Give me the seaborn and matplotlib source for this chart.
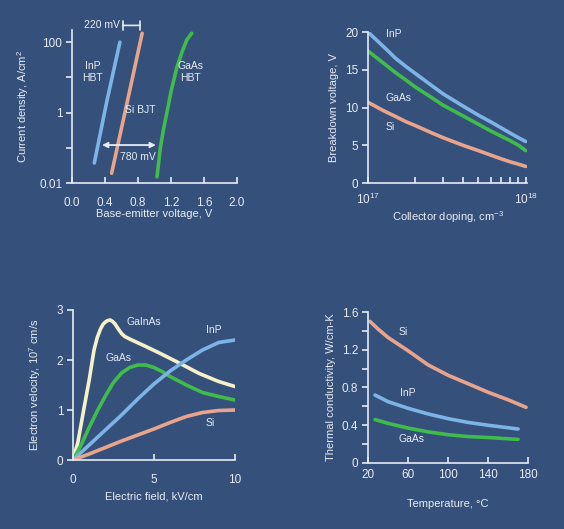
import numpy as np
import pandas as pd
import matplotlib
matplotlib.use("Agg")
import matplotlib.pyplot as plt
import matplotlib.ticker as mticker
import seaborn as sns

# --- colours ---
BG = "#35507b"
FG = "#e6ecf3"
C_INP = "#7db4e6"
C_SI = "#e9a58c"
C_GAAS = "#3fbc4c"
C_GAINAS = "#f5f1c9"

# --- panel 1: current density vs base-emitter voltage ---
inp_v = [0.27, 0.42, 0.58]
inp_j = [0.037, 2.0, 100]
si_v = [0.48, 0.66, 0.85]
si_j = [0.019, 1.6, 180]
gaas_v = [1.03, 1.07, 1.11, 1.15, 1.20, 1.27, 1.33, 1.39, 1.45]
gaas_j = [0.015, 0.1, 0.35, 1.0, 4.0, 19, 50, 115, 180]

# --- panel 2: breakdown voltage vs collector doping ---
doping = [1e17, 1.25e17, 1.5e17, 1.75e17, 2e17, 2.5e17, 3e17, 4e17, 5e17, 6e17, 7e17, 8e17, 9e17, 1e18]
bv_inp = [20, 18.1, 16.5, 15.4, 14.5, 13.0, 11.8, 10.2, 9.0, 8.1, 7.3, 6.6, 6.0, 5.5]
bv_gaas = [17.5, 15.9, 14.6, 13.6, 12.7, 11.4, 10.3, 8.9, 7.8, 6.9, 6.2, 5.6, 5.0, 4.3]
bv_si = [10.7, 9.6, 8.8, 8.1, 7.6, 6.7, 6.0, 5.0, 4.3, 3.7, 3.2, 2.8, 2.5, 2.2]

# --- panel 3: electron velocity vs electric field ---
e_gainas = [0, 0.3, 0.66, 1.0, 1.3, 1.5, 1.7, 1.85, 2.0, 2.15, 2.3, 2.45, 2.6, 2.8, 3.0, 3.2, 3.5, 4.5, 5.4, 6.5, 7.8, 9, 10]
v_gainas = [0, 0.35, 1.0, 1.6, 2.2, 2.45, 2.62, 2.71, 2.76, 2.79, 2.8, 2.77, 2.72, 2.62, 2.53, 2.47, 2.42, 2.27, 2.13, 1.95, 1.73, 1.57, 1.47]
e_gaas = [0, 0.5, 1, 1.5, 2, 2.5, 3, 3.5, 4, 4.5, 5, 5.5, 6, 7, 8, 9, 10]
v_gaas = [0, 0.3, 0.65, 0.98, 1.28, 1.55, 1.74, 1.85, 1.9, 1.9, 1.85, 1.77, 1.67, 1.5, 1.35, 1.27, 1.2]
e_inp = [0, 1, 2, 3, 4, 5, 6, 7, 8, 9, 10]
v_inp = [0, 0.3, 0.6, 0.9, 1.22, 1.52, 1.78, 2.0, 2.2, 2.35, 2.4]
e_si = [0, 1, 2, 3, 4, 5, 6, 7, 8, 9, 10]
v_si = [0, 0.12, 0.25, 0.38, 0.5, 0.62, 0.75, 0.87, 0.95, 0.99, 1.0]

# --- panel 4: thermal conductivity vs temperature ---
t_si = [22, 30, 40, 50, 60, 80, 100, 120, 140, 160, 178]
k_si = [1.5, 1.42, 1.33, 1.26, 1.19, 1.04, 0.93, 0.84, 0.75, 0.67, 0.59]
t_inp = [27, 40, 60, 80, 100, 120, 140, 170]
k_inp = [0.72, 0.65, 0.58, 0.52, 0.47, 0.43, 0.40, 0.36]
t_gaas = [27, 40, 60, 80, 100, 120, 140, 170]
k_gaas = [0.46, 0.42, 0.37, 0.33, 0.30, 0.28, 0.27, 0.25]


def frame(pairs, xname, yname):
    parts = []
    for name, xs, ys in pairs:
        parts.append(pd.DataFrame({xname: xs, yname: ys, "mat": name}))
    return pd.concat(parts, ignore_index=True)


sns.set_style("ticks", {"axes.facecolor": BG, "figure.facecolor": BG,
                        "axes.edgecolor": FG, "xtick.color": FG, "ytick.color": FG,
                        "text.color": FG, "axes.labelcolor": FG})
plt.rcParams["font.family"] = ["Liberation Sans", "DejaVu Sans"]
plt.rcParams["font.size"] = 8
plt.rcParams["mathtext.fontset"] = "custom"
plt.rcParams["mathtext.rm"] = "Liberation Sans"

fig = plt.figure(figsize=(5.64, 5.29), dpi=100)
fig.patch.set_facecolor(BG)

ax1 = fig.add_axes([0.1277, 0.654, 0.2926, 0.289])
ax2 = fig.add_axes([0.6525, 0.654, 0.282, 0.2854])
ax3 = fig.add_axes([0.1294, 0.1304, 0.287, 0.2836])
ax4 = fig.add_axes([0.6525, 0.1248, 0.2837, 0.2854])

LW = 2.6


def style(ax, xpad):
    sns.despine(ax=ax)
    for s in ("left", "bottom"):
        ax.spines[s].set_color(FG)
        ax.spines[s].set_linewidth(1.2)
    ax.tick_params(axis="x", which="both", direction="in", length=4, width=1.2, labelsize=8.5, pad=xpad)
    ax.tick_params(axis="y", which="both", direction="out", length=4, width=1.2, labelsize=8.5, pad=3)


# panel 1
d1 = frame([("InP", inp_v, inp_j), ("Si", si_v, si_j), ("GaAs", gaas_v, gaas_j)], "V", "J")
sns.lineplot(data=d1, x="V", y="J", hue="mat", palette={"InP": C_INP, "Si": C_SI, "GaAs": C_GAAS},
             sort=False, estimator=None, legend=False, lw=LW, ax=ax1)
ax1.set_yscale("log")
ax1.set_xlim(0, 2.0)
ax1.set_ylim(0.01, 220)
ax1.set_xticks([0.0, 0.4, 0.8, 1.2, 1.6, 2.0])
ax1.xaxis.set_major_formatter(mticker.FormatStrFormatter("%.1f"))
ax1.set_yticks([0.01, 0.1, 1, 10, 100])
ax1.set_yticklabels(["0.01", "", "1", "", "100"])
ax1.yaxis.set_minor_locator(mticker.NullLocator())
ax1.set_xlabel("Base-emitter voltage, V", labelpad=0)
ax1.set_ylabel("Current density, A/cm$^2$", labelpad=6)
style(ax1, 10)
ax1.text(0.25, 14, "InP\nHBT", fontsize=7.5, ha="center", va="center")
ax1.text(0.83, 1.2, "Si BJT", fontsize=7.5, ha="center", va="center")
ax1.text(1.43, 14, "GaAs\nHBT", fontsize=7.5, ha="center", va="center")
ax1.annotate("", xy=(0.58, 300), xytext=(0.86, 300), annotation_clip=False,
             arrowprops=dict(arrowstyle="|-|", color=FG, lw=1.2, mutation_scale=3))
ax1.text(0.36, 300, "220 mV", fontsize=7.5, ha="center", va="center", clip_on=False)
ax1.annotate("", xy=(0.33, 0.12), xytext=(1.05, 0.12),
             arrowprops=dict(arrowstyle="<|-|>", color=FG, lw=1.3, mutation_scale=8))
ax1.text(0.8, 0.055, "780 mV", fontsize=7.5, ha="center", va="center")

# panel 2
d2 = frame([("InP", doping, bv_inp), ("GaAs", doping, bv_gaas), ("Si", doping, bv_si)], "N", "BV")
sns.lineplot(data=d2, x="N", y="BV", hue="mat", palette={"InP": C_INP, "Si": C_SI, "GaAs": C_GAAS},
             sort=False, estimator=None, legend=False, lw=LW, ax=ax2)
ax2.set_xscale("log")
ax2.set_xlim(1e17, 1.02e18)
ax2.set_ylim(0, 20)
ax2.set_yticks([0, 5, 10, 15, 20])
ax2.set_xticks([1e17, 1e18])
ax2.set_xticklabels(["$10^{17}$", "$10^{18}$"])
ax2.xaxis.set_minor_locator(mticker.LogLocator(subs=np.arange(2, 10)))
ax2.xaxis.set_minor_formatter(mticker.NullFormatter())
ax2.set_xlabel("Collector doping, cm$^{-3}$", labelpad=2)
ax2.set_ylabel("Breakdown voltage, V")
style(ax2, 6)
ax2.text(1.3e17, 19.7, "InP", fontsize=7.5, va="center")
ax2.text(1.3e17, 11.3, "GaAs", fontsize=7.5, va="center")
ax2.text(1.3e17, 7.4, "Si", fontsize=7.5, va="center")

# panel 3
d3 = frame([("GaInAs", e_gainas, v_gainas), ("GaAs", e_gaas, v_gaas),
            ("InP", e_inp, v_inp), ("Si", e_si, v_si)], "E", "v")
sns.lineplot(data=d3, x="E", y="v", hue="mat",
             palette={"GaInAs": C_GAINAS, "InP": C_INP, "Si": C_SI, "GaAs": C_GAAS},
             sort=False, estimator=None, legend=False, lw=LW, ax=ax3)
ax3.set_xlim(0, 10)
ax3.set_ylim(0, 3)
ax3.set_xticks([0, 5, 10])
ax3.set_yticks([0, 1, 2, 3])
ax3.set_xlabel("Electric field, kV/cm", labelpad=4)
ax3.set_ylabel("Electron velocity, 10$^7$ cm/s", labelpad=10)
style(ax3, 10)
ax3.text(4.4, 2.75, "GaInAs", fontsize=7.5, ha="center", va="center")
ax3.text(2.8, 2.05, "GaAs", fontsize=7.5, ha="center", va="center")
ax3.text(8.7, 2.6, "InP", fontsize=7.5, ha="center", va="center")
ax3.text(8.5, 0.75, "Si", fontsize=7.5, ha="center", va="center")

# panel 4
d4 = frame([("Si", t_si, k_si), ("InP", t_inp, k_inp), ("GaAs", t_gaas, k_gaas)], "T", "k")
sns.lineplot(data=d4, x="T", y="k", hue="mat", palette={"InP": C_INP, "Si": C_SI, "GaAs": C_GAAS},
             sort=False, estimator=None, legend=False, lw=LW, ax=ax4)
ax4.set_xlim(20, 180)
ax4.set_ylim(0, 1.6)
ax4.set_xticks([20, 60, 100, 140, 180])
ax4.set_yticks([0, 0.4, 0.8, 1.2, 1.6])
ax4.set_yticklabels(["0", "0.4", "0.8", "1.2", "1.6"])
ax4.yaxis.set_minor_locator(mticker.MultipleLocator(0.2))
ax4.set_xlabel("Temperature, °C", labelpad=13)
ax4.set_ylabel("Thermal conductivity, W/cm-K")
style(ax4, 4)
ax4.text(51, 1.39, "Si", fontsize=7.5, va="center")
ax4.text(52, 0.74, "InP", fontsize=7.5, va="center")
ax4.text(50, 0.25, "GaAs", fontsize=7.5, va="center")

fig.savefig("out.png", dpi=100, facecolor=BG)
